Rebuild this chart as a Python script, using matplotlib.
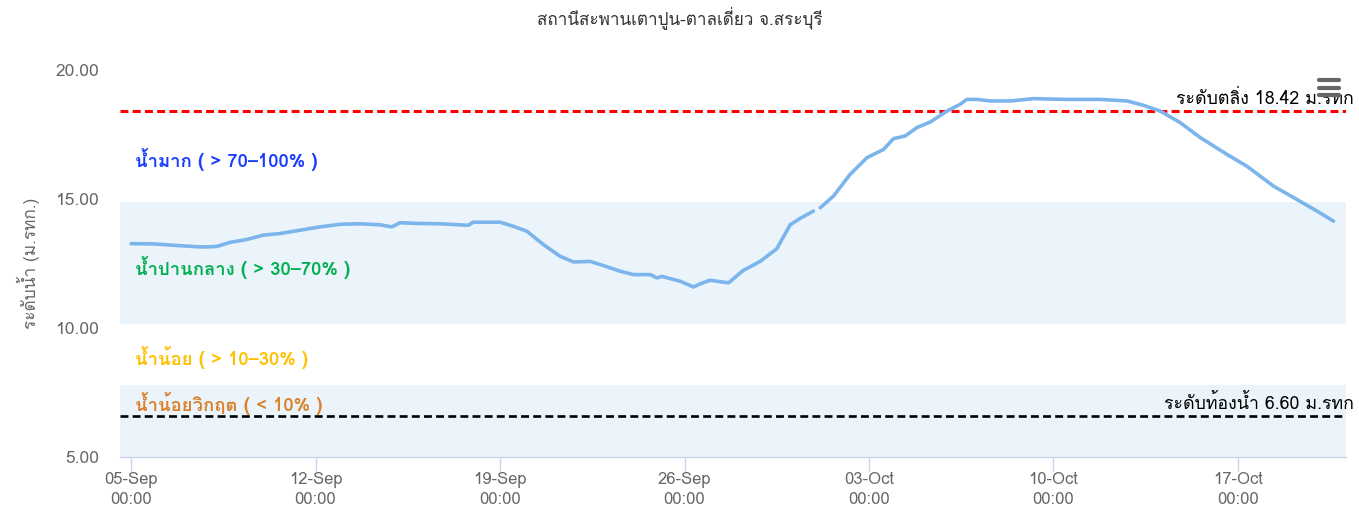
import matplotlib
matplotlib.use('Agg')
import matplotlib.pyplot as plt
import matplotlib.dates as mdates
import numpy as np
import pandas as pd
from matplotlib import font_manager
from matplotlib.ft2font import FT2Font

# water level readings, days after 05-Sep 00:00
start = pd.Timestamp('2023-09-05')
days = [0.0, 0.83, 1.86, 2.68, 3.25, 3.76, 4.39, 5.01, 5.65, 6.41, 7.17, 7.93,
        8.69, 9.45, 9.89, 10.21, 10.97, 11.73, 12.80, 12.98, 14.00, 14.51,
        15.02, 15.65, 16.28, 16.79, 17.42, 17.80, 18.56, 19.06, 19.70, 19.95,
        20.14, 20.84, 21.34, 21.59, 21.97, 22.67, 23.24, 23.87, 24.50, 25.01,
        25.39, 25.89, 26.02, 26.15, 26.65, 27.28, 27.92, 28.55, 28.93, 29.37,
        29.82, 30.32, 30.96, 31.46, 31.71, 32.09, 32.60, 33.36, 34.24, 35.51,
        36.77, 37.79, 38.42, 39.05, 39.81, 40.57, 41.58, 42.34, 43.35, 44.24,
        45.00, 45.63]
levels = [13.27, 13.26, 13.19, 13.14, 13.16, 13.32, 13.43, 13.60, 13.66, 13.79,
          13.92, 14.02, 14.04, 14.00, 13.92, 14.08, 14.05, 14.04, 13.98, 14.10,
          14.10, 13.94, 13.75, 13.23, 12.78, 12.56, 12.58, 12.46, 12.20, 12.07,
          12.07, 11.94, 12.00, 11.81, 11.59, 11.71, 11.85, 11.75, 12.24, 12.58,
          13.07, 14.00, 14.25, 14.53, np.nan, 14.66, 15.11, 15.95, 16.60, 16.92,
          17.34, 17.44, 17.77, 17.98, 18.41, 18.67, 18.86, 18.86, 18.80, 18.80,
          18.89, 18.86, 18.86, 18.80, 18.63, 18.41, 17.96, 17.38, 16.73, 16.27,
          15.50, 14.98, 14.53, 14.14]

bank_level = 18.42
bed_level = 6.60
tick_days = [0, 7, 14, 21, 28, 35, 42]
y_ticks = [5, 10, 15, 20]

title = 'สถานีสะพานเตาปูน-ตาลเดี่ยว จ.สระบุรี'
y_label = 'ระดับน้ำ (ม.รทก.)'
zone_labels = ['น้ำมาก ( > 70–100% )', 'น้ำปานกลาง ( > 30–70% )',
               'น้ำน้อย ( > 10–30% )', 'น้ำน้อยวิกฤต ( < 10% )']
zone_colors = ['#1a3cff', '#00b050', '#ffc000', '#d9822b']
zone_y = [16.55, 12.34, 8.84, 7.06]


def thai_font():
    # pick the first installed font that has Thai glyphs
    for f in font_manager.fontManager.ttflist:
        try:
            if FT2Font(f.fname).get_char_index(0x0E01):
                return f.name
        except Exception:
            pass
    return None


tf = thai_font()
fams = ([tf] if tf else []) + ['DejaVu Sans']
plt.rcParams['font.family'] = fams

fig = plt.figure(figsize=(13.59, 5.17), dpi=100)
ax = fig.add_axes([120 / 1359, 60 / 517, 1226 / 1359, 387 / 517])

t = [start + pd.Timedelta(days=d) for d in days]
ax.plot(t, levels, color='#7cb5ec', lw=2.6, solid_capstyle='round',
        solid_joinstyle='round', zorder=3)

# zone bands (30-70 % and < 10 % of bed-to-bank range)
rng = bank_level - bed_level
ax.axhspan(bed_level + 0.3 * rng, bed_level + 0.7 * rng, color='#ebf4fb', zorder=0, lw=0)
ax.axhspan(5, bed_level + 0.1 * rng, color='#ebf4fb', zorder=0, lw=0)

ax.axhline(bank_level, color='#ff0000', lw=2.2, ls=(0, (2.6, 1.4)), zorder=2)
ax.axhline(bed_level, color='#000000', lw=1.9, ls=(0, (3.0, 1.6)), zorder=2)

ax.set_xlim(start - pd.Timedelta(days=0.42), start + pd.Timedelta(days=46.1))
ax.set_ylim(5, 20)

for s in ['top', 'right', 'left']:
    ax.spines[s].set_visible(False)
ax.spines['bottom'].set_color('#ccd6eb')
ax.spines['bottom'].set_linewidth(1)

ax.set_xticks([start + pd.Timedelta(days=d) for d in tick_days])
ax.xaxis.set_major_formatter(mdates.DateFormatter('%d-%b\n%H:%M'))
ax.tick_params(axis='x', colors='#ccd6eb', labelcolor='#666666', length=10,
               width=1, labelsize=12, pad=1)
ax.set_yticks(y_ticks)
ax.set_yticklabels(['%.2f' % v for v in y_ticks])
ax.tick_params(axis='y', length=0, labelcolor='#666666', labelsize=12.5, pad=15)
for lab in ax.get_xticklabels():
    lab.set_linespacing(1.3)

ax.set_ylabel(y_label, color='#666666', fontsize=12.4, labelpad=11)
fig.text(0.5, 1 - 18 / 517, title, ha='center', va='center', fontsize=12.3, color='#333333')

tr = ax.get_yaxis_transform()
for lab, c, y in zip(zone_labels, zone_colors, zone_y):
    ax.text(0.012, y, lab, transform=tr, color=c, fontsize=13.3,
            fontweight='bold', va='center', ha='left')

ax.text(1.0065, bank_level + 0.12, 'ระดับตลิ่ง 18.42 ม.รทก', transform=tr,
        ha='right', va='bottom', fontsize=12.8, color='#000000', clip_on=False)
ax.text(1.0065, bed_level + 0.12, 'ระดับท้องน้ำ 6.60 ม.รทก', transform=tr,
        ha='right', va='bottom', fontsize=12.8, color='#000000', clip_on=False)

# export menu icon
for yy in [80, 88, 95]:
    fig.add_artist(plt.Line2D([1319 / 1359, 1339 / 1359], [1 - yy / 517] * 2,
                              color='#666666', lw=3, solid_capstyle='round'))

fig.savefig('out.png', dpi=100)
